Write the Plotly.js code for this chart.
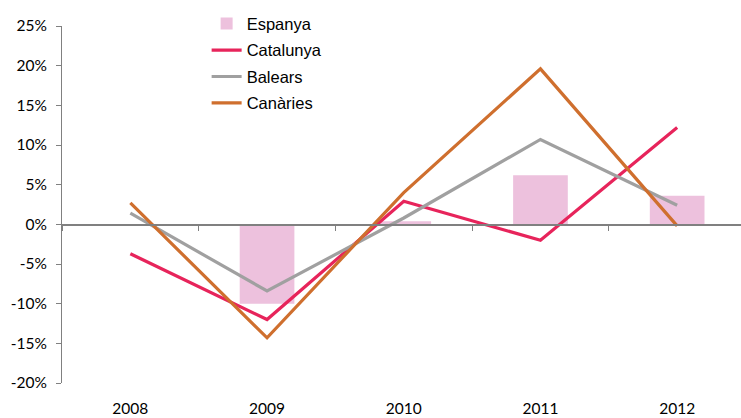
<!DOCTYPE html>
<html>
<head>
<meta charset="utf-8">
<script src="https://cdn.plot.ly/plotly-3.0.1.min.js"></script>
<style>html,body{margin:0;padding:0;background:#fff;}#chart{width:741px;height:418px;}</style>
</head>
<body>
<div id="chart"></div>
<script>
const years = ['2008', '2009', '2010', '2011', '2012'];
const espanya = [0.0, -10.0, 0.4, 6.2, 3.6];
const catalunya = [-3.7, -12.0, 2.9, -2.0, 12.2];
const balears = [1.4, -8.4, 0.8, 10.7, 2.4];
const canaries = [2.7, -14.3, 4.0, 19.6, -0.2];
const yTicks = [-20, -15, -10, -5, 0, 5, 10, 15, 20, 25];

const lineW = 3.2;
const traces = [
  {type: 'bar', name: 'Espanya', x: years, y: espanya, marker: {color: '#EDC1DD'}, width: 0.4, legendgroup: 'a'},
  {type: 'scatter', mode: 'lines', name: 'Catalunya', x: years, y: catalunya, line: {color: '#E7245B', width: lineW}, legendgroup: 'b'},
  {type: 'scatter', mode: 'lines', name: 'Balears', x: years, y: balears, line: {color: '#A0A0A0', width: lineW}, legendgroup: 'c'},
  {type: 'scatter', mode: 'lines', name: 'Canàries', x: years, y: canaries, line: {color: '#CF6F2E', width: lineW}, legendgroup: 'd'},
  {type: 'scatter', mode: 'markers', x: years, y: espanya, xaxis: 'x2', yaxis: 'y', marker: {opacity: 0, size: 1},
   showlegend: false, hoverinfo: 'skip'}
];

const layout = {
  width: 741, height: 418,
  margin: {l: 62, r: 0, t: 26, b: 35},
  paper_bgcolor: '#fff', plot_bgcolor: '#fff',
  showlegend: true,
  legend: {x: 0.213, xanchor: 'left', y: 1.055, yanchor: 'top', traceorder: 'grouped', tracegroupgap: 2,
           font: {family: 'Liberation Sans, Arial, sans-serif', size: 16.5, color: '#000'}, bgcolor: 'rgba(0,0,0,0)'},
  xaxis: {type: 'category', categoryarray: years, range: [-0.5, 4.467], showline: false, showgrid: false,
          zeroline: false, ticks: '', ticklabelstandoff: 14,
          tickfont: {family: 'Lato, Open Sans, sans-serif', size: 15.5, color: '#000'}, fixedrange: true},
  xaxis2: {type: 'category', categoryarray: years, range: [-0.5, 4.467], overlaying: 'x', anchor: 'free', position: 20/45,
           showline: true, linecolor: '#808080', linewidth: 1.5, ticks: 'outside', tickson: 'boundaries', ticklen: 5,
           tickcolor: '#808080', showticklabels: false, showgrid: false, zeroline: false},
  yaxis: {range: [-20, 25], tickvals: yTicks, ticktext: yTicks.map(v => v + '%'), showline: true, linecolor: '#808080', linewidth: 1,
          ticks: 'outside', ticklen: 5, tickcolor: '#808080', showgrid: false, zeroline: false, ticklabelstandoff: 6,
          tickfont: {family: 'Lato, Open Sans, sans-serif', size: 15.5, color: '#000'}}
};

Plotly.newPlot('chart', traces, layout, {displayModeBar: false, staticPlot: true});
</script>
</body>
</html>
